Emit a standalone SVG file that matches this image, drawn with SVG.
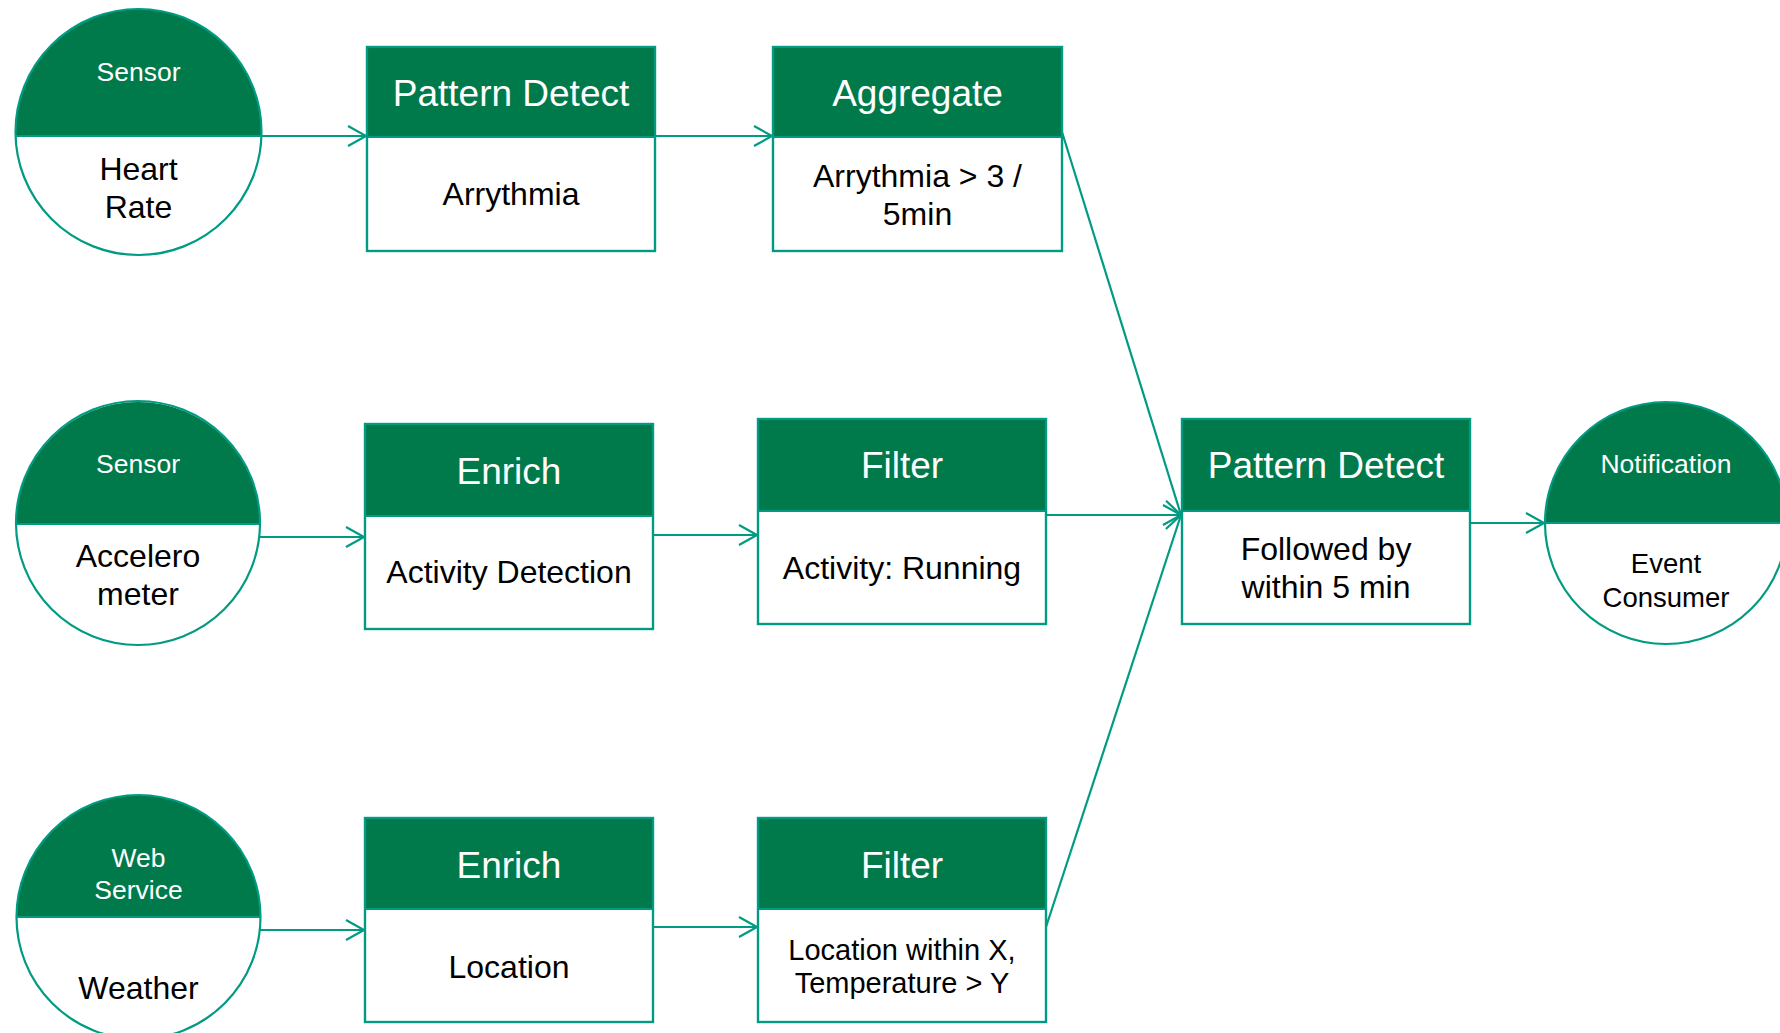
<svg xmlns="http://www.w3.org/2000/svg" width="1780" height="1033" viewBox="0 0 1780 1033">
  <defs>
    <style>
      .frame { fill: #ffffff; stroke: #009B82; stroke-width: 2.2; }
      .head { fill: #007A4B; stroke: none; }
      .rule { stroke: #009B82; stroke-width: 2.2; fill: none; }
      .edge { stroke: #009B82; stroke-width: 2.2; fill: none; marker-end: url(#arrow); }
      text { font-family: "Liberation Sans", Arial, sans-serif; text-anchor: middle; }
      .title { fill: #ffffff; font-size: 37px; }
      .tag { fill: #ffffff; font-size: 26.5px; }
      .body { fill: #000000; font-size: 32px; }
      .small { fill: #000000; font-size: 29px; }
      .note { fill: #000000; font-size: 27.5px; }
    </style>
    <marker id="arrow" markerUnits="userSpaceOnUse" markerWidth="24" markerHeight="24" viewBox="-20 -12 24 24" refX="0" refY="0" orient="auto">
      <path d="M-18,-10 L0,0 L-18,10" fill="none" stroke="#009B82" stroke-width="2.2"/>
    </marker>
  </defs>

  <!-- connectors -->
  <g id="connectors">
    <line class="edge" x1="261" y1="136" x2="366" y2="136"/>
    <line class="edge" x1="655" y1="136" x2="772" y2="136"/>
    <line class="edge" x1="260" y1="537" x2="364" y2="537"/>
    <line class="edge" x1="653" y1="535" x2="757" y2="535"/>
    <line class="edge" x1="1046" y1="515" x2="1181" y2="515"/>
    <line class="edge" x1="1062" y1="132" x2="1181" y2="515"/>
    <line class="edge" x1="260" y1="930" x2="364" y2="930"/>
    <line class="edge" x1="653" y1="927" x2="757" y2="927"/>
    <line class="edge" x1="1046" y1="927" x2="1181" y2="515"/>
    <line class="edge" x1="1470" y1="523" x2="1544" y2="523"/>
  </g>

  <!-- source: heart rate sensor -->
  <g id="heart-rate">
    <circle cx="138.5" cy="132" r="123" fill="#ffffff"/>
    <path class="head" d="M15.57,136 A123,123 0 1 1 261.43,136 Z"/>
    <line class="rule" x1="15.57" y1="136" x2="261.43" y2="136"/>
    <circle class="rule" cx="138.5" cy="132" r="123"/>
    <text class="tag" x="138.5" y="81">Sensor</text>
    <text class="body" x="138.5" y="180">Heart</text>
    <text class="body" x="138.5" y="218">Rate</text>
  </g>

  <!-- source: accelerometer sensor -->
  <g id="accelerometer">
    <circle cx="138" cy="523" r="122" fill="#ffffff"/>
    <path class="head" d="M16,524 A122,122 0 1 1 260,524 Z"/>
    <line class="rule" x1="16" y1="524" x2="260" y2="524"/>
    <circle class="rule" cx="138" cy="523" r="122"/>
    <text class="tag" x="138" y="473">Sensor</text>
    <text class="body" x="138" y="567">Accelero</text>
    <text class="body" x="138" y="605">meter</text>
  </g>

  <!-- source: weather web service -->
  <g id="weather">
    <circle cx="138.5" cy="917" r="122" fill="#ffffff"/>
    <path class="head" d="M16.5,917 A122,122 0 0 1 260.5,917 Z"/>
    <line class="rule" x1="16.5" y1="917" x2="260.5" y2="917"/>
    <circle class="rule" cx="138.5" cy="917" r="122"/>
    <text class="tag" x="138.5" y="867">Web</text>
    <text class="tag" x="138.5" y="899">Service</text>
    <text class="body" x="138.5" y="999">Weather</text>
  </g>

  <!-- row 1 operators -->
  <g id="pattern-arrythmia">
    <rect class="frame" x="367" y="47" width="288" height="204"/>
    <rect class="head" x="367" y="47" width="288" height="90"/>
    <rect x="367" y="47" width="288" height="204" fill="none" stroke="#009B82" stroke-width="2.2"/>
    <line class="rule" x1="367" y1="137" x2="655" y2="137"/>
    <text class="title" x="511" y="106">Pattern Detect</text>
    <text class="body" x="511" y="205">Arrythmia</text>
  </g>

  <g id="aggregate">
    <rect class="frame" x="773" y="47" width="289" height="204"/>
    <rect class="head" x="773" y="47" width="289" height="90"/>
    <rect x="773" y="47" width="289" height="204" fill="none" stroke="#009B82" stroke-width="2.2"/>
    <line class="rule" x1="773" y1="137" x2="1062" y2="137"/>
    <text class="title" x="917.5" y="106">Aggregate</text>
    <text class="body" x="917.5" y="187">Arrythmia &gt; 3 /</text>
    <text class="body" x="917.5" y="225">5min</text>
  </g>

  <!-- row 2 operators -->
  <g id="enrich-activity">
    <rect class="frame" x="365" y="424" width="288" height="205"/>
    <rect class="head" x="365" y="424" width="288" height="92"/>
    <rect x="365" y="424" width="288" height="205" fill="none" stroke="#009B82" stroke-width="2.2"/>
    <line class="rule" x1="365" y1="516" x2="653" y2="516"/>
    <text class="title" x="509" y="484">Enrich</text>
    <text class="body" x="509" y="583">Activity Detection</text>
  </g>

  <g id="filter-running">
    <rect class="frame" x="758" y="419" width="288" height="205"/>
    <rect class="head" x="758" y="419" width="288" height="92"/>
    <rect x="758" y="419" width="288" height="205" fill="none" stroke="#009B82" stroke-width="2.2"/>
    <line class="rule" x1="758" y1="511" x2="1046" y2="511"/>
    <text class="title" x="902" y="478">Filter</text>
    <text class="body" x="902" y="579">Activity: Running</text>
  </g>

  <g id="pattern-followed">
    <rect class="frame" x="1182" y="419" width="288" height="205"/>
    <rect class="head" x="1182" y="419" width="288" height="92"/>
    <rect x="1182" y="419" width="288" height="205" fill="none" stroke="#009B82" stroke-width="2.2"/>
    <line class="rule" x1="1182" y1="511" x2="1470" y2="511"/>
    <text class="title" x="1326" y="478">Pattern Detect</text>
    <text class="body" x="1326" y="560">Followed by</text>
    <text class="body" x="1326" y="598">within 5 min</text>
  </g>

  <!-- sink: notification -->
  <g id="notification">
    <circle cx="1666" cy="523" r="121" fill="#ffffff"/>
    <path class="head" d="M1545,523 A121,121 0 0 1 1787,523 Z"/>
    <line class="rule" x1="1545" y1="523" x2="1787" y2="523"/>
    <circle class="rule" cx="1666" cy="523" r="121"/>
    <text class="tag" x="1666" y="473">Notification</text>
    <text class="note" x="1666" y="573">Event</text>
    <text class="note" x="1666" y="607">Consumer</text>
  </g>

  <!-- row 3 operators -->
  <g id="enrich-location">
    <rect class="frame" x="365" y="818" width="288" height="204"/>
    <rect class="head" x="365" y="818" width="288" height="91"/>
    <rect x="365" y="818" width="288" height="204" fill="none" stroke="#009B82" stroke-width="2.2"/>
    <line class="rule" x1="365" y1="909" x2="653" y2="909"/>
    <text class="title" x="509" y="878">Enrich</text>
    <text class="body" x="509" y="978">Location</text>
  </g>

  <g id="filter-location">
    <rect class="frame" x="758" y="818" width="288" height="204"/>
    <rect class="head" x="758" y="818" width="288" height="91"/>
    <rect x="758" y="818" width="288" height="204" fill="none" stroke="#009B82" stroke-width="2.2"/>
    <line class="rule" x1="758" y1="909" x2="1046" y2="909"/>
    <text class="title" x="902" y="878">Filter</text>
    <text class="small" x="902" y="960">Location within X,</text>
    <text class="small" x="902" y="993">Temperature &gt; Y</text>
  </g>
</svg>
